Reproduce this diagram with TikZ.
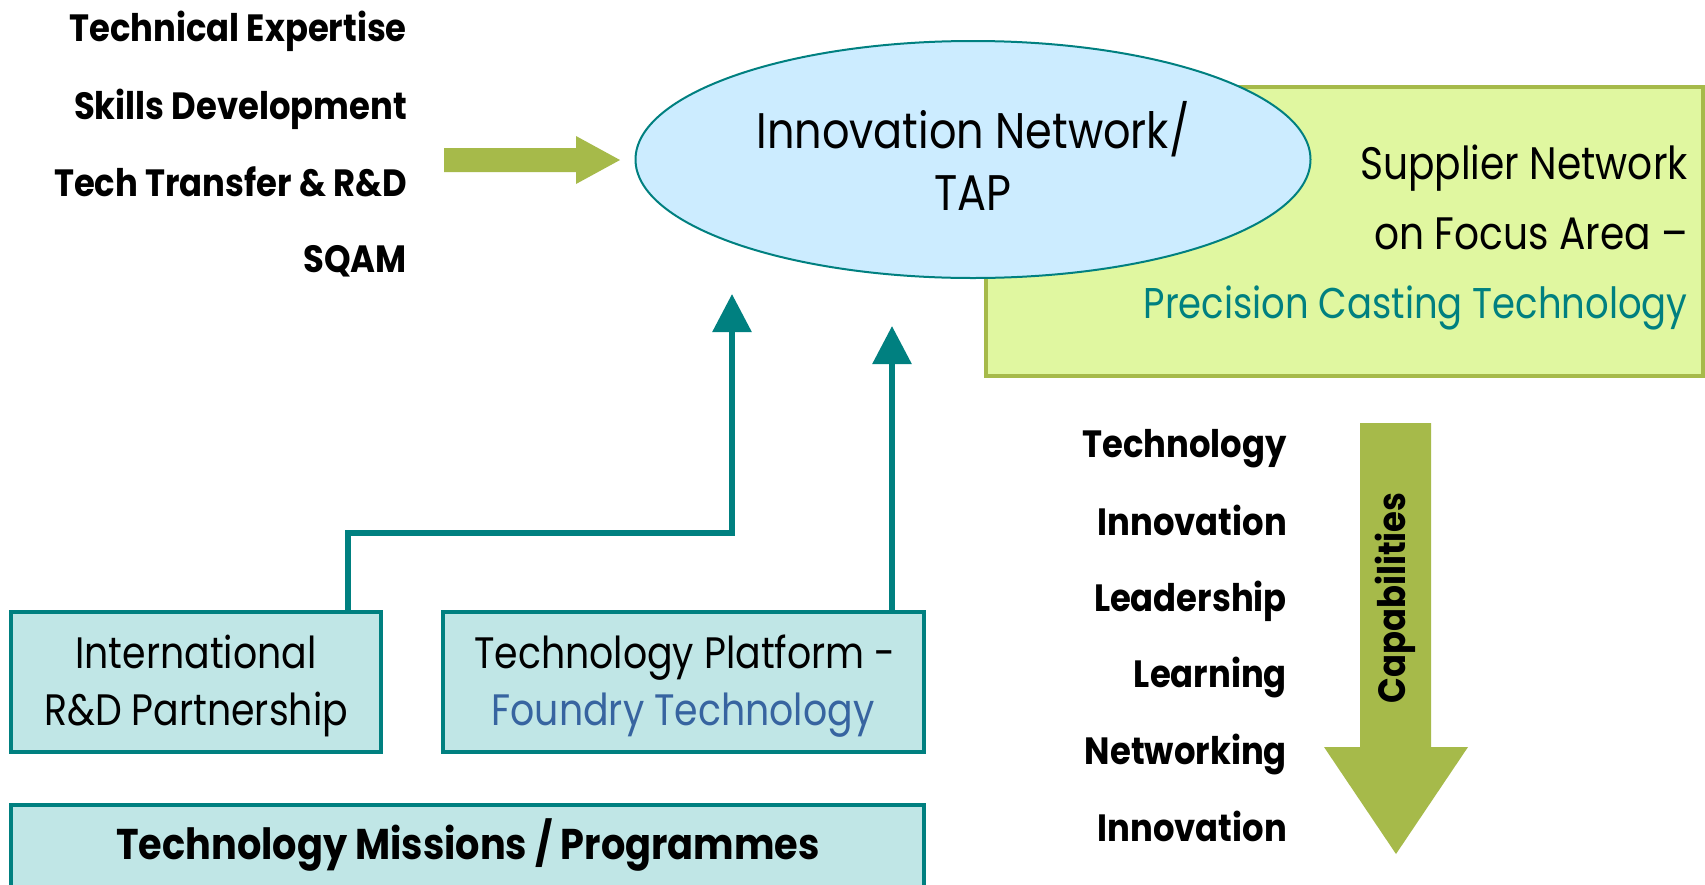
\documentclass[tikz,border=0pt]{standalone}
\usepackage{fontspec}
\setmainfont{Poppins}[FakeStretch=0.86,BoldFeatures={FakeStretch=0.89}]
\usetikzlibrary{arrows.meta,shapes.geometric}
\definecolor{olv}{RGB}{166,186,74}
\definecolor{tealc}{RGB}{0,128,128}
\definecolor{boxfill}{RGB}{192,230,230}
\definecolor{supfill}{RGB}{224,247,160}
\definecolor{ellfill}{RGB}{204,236,255}
\definecolor{bluetext}{RGB}{55,100,160}
\tikzset{
  boldtxt/.style={anchor=base east, inner sep=0pt, font=\bfseries\fontsize{38}{38}\selectfont},
  regtxt/.style={anchor=base, inner sep=0pt, font=\fontsize{44}{44}\selectfont},
  elltxt/.style={anchor=base, inner sep=0pt, font=\fontsize{50}{50}\selectfont},
  suptxt/.style={anchor=base east, inner sep=0pt, font=\fontsize{45.5}{45.5}\selectfont},
  tbox/.style={draw=tealc, line width=4pt, fill=boxfill, inner sep=0pt},
  conn/.style={draw=tealc, line width=6pt, -{Triangle[width=38pt,length=38pt]}},
}
\begin{document}
\begin{tikzpicture}[x=1pt,y=-1pt]
\clip (0,0) rectangle (1705,884);
\fill[white] (0,0) rectangle (1705,884);

% left list
\node[boldtxt] (l1) at (407,41) {Technical Expertise};
\node[boldtxt] (l2) at (407,119) {Skills Development};
\node[boldtxt] (l3) at (407,196) {Tech Transfer \& R\&D};
\node[boldtxt] (l4) at (407,272) {SQAM};

% green arrow
\fill[olv] (444,148) -- (576,148) -- (576,136) -- (620,160) -- (576,184) -- (576,172) -- (444,172) -- cycle;

% supplier rectangle
\node[draw=olv, line width=4pt, fill=supfill, minimum width=717pt, minimum height=289pt, inner sep=0pt] (sup) at (1344.5,231.5) {};
\node[suptxt] (s1) at (1688,179) {Supplier Network};
\node[suptxt] (s2) at (1688,249) {on Focus Area --};
\node[suptxt, text=tealc, font=\fontsize{43}{43}\selectfont] (s3) at (1688,318) {Precision Casting Technology};

% ellipse
\node[ellipse, draw=tealc, line width=2pt, fill=ellfill, minimum width=675pt, minimum height=237pt, inner sep=0pt] (ell) at (973,159.5) {};
\node[elltxt] (e1) at (973,148) {Innovation Network/};
\node[elltxt] (e2) at (973,210) {TAP};

% boxes
\node[tbox, minimum width=370pt, minimum height=140pt] (intl) at (196,682) {};
\node[tbox, minimum width=481pt, minimum height=140pt] (tp) at (683.5,682) {};
\node[tbox, minimum width=913pt, minimum height=120pt] (mis) at (467.5,865) {};
\node[regtxt] (i1) at (196,668) {International};
\node[regtxt] (i2) at (196,725) {R\&D Partnership};
\node[regtxt] (p1) at (685,668) {Technology Platform -};
\node[regtxt, text=bluetext] (p2) at (683,725) {Foundry Technology};
\node[anchor=base, inner sep=0pt, font=\bfseries\fontsize{43}{43}\selectfont] (m1) at (468,859) {Technology Missions / Programmes};

% teal arrows
\coordinate (t1) at (732,294);
\coordinate (k1) at (348,533);
\coordinate (t2) at (892,326);
\draw[conn] (intl.north -| k1) -- (k1) -| (t1);
\draw[conn] (tp.north -| t2) -- (t2);

% right list
\node[boldtxt] (r1) at (1287,457) {Technology};
\node[boldtxt] (r2) at (1287,535) {Innovation};
\node[boldtxt] (r3) at (1287,611) {Leadership};
\node[boldtxt] (r4) at (1287,687) {Learning};
\node[boldtxt] (r5) at (1287,764) {Networking};
\node[boldtxt] (r6) at (1287,841) {Innovation};

% capabilities arrow
\fill[olv] (1360,423) -- (1431,423) -- (1431,747) -- (1468,747) -- (1396,854) -- (1324,747) -- (1360,747) -- cycle;
\node[rotate=90, inner sep=0pt, font=\bfseries\fontsize{38}{38}\selectfont] (cap) at (1395,598) {Capabilities};
\end{tikzpicture}
\end{document}
